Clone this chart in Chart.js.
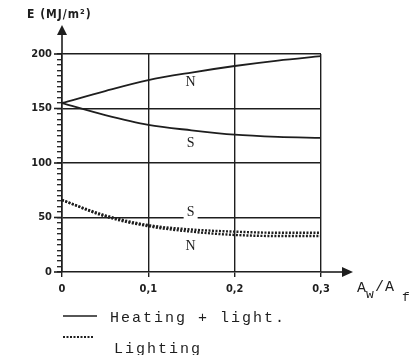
<!DOCTYPE html>
<html><head><meta charset="utf-8">
<script src="https://cdn.jsdelivr.net/npm/chart.js@4/dist/chart.umd.min.js"></script>
<style>html,body{margin:0;padding:0;background:#fff}#wrap{width:416px;height:355px;position:relative}</style>
</head><body><div id="wrap"><canvas id="c" width="416" height="355"></canvas></div>
<script>
const xValues = [0, 0.05, 0.1, 0.15, 0.2, 0.25, 0.3];
const heatingN = [155, 166, 176, 183, 189, 194, 198];
const heatingS = [155, 144, 135, 130, 126, 124, 123];
const lightingS = [66, 52, 43, 39, 37, 36, 36];
const lightingN = [66, 51, 42, 37, 34, 33, 33];
const xTicks = [0, 0.1, 0.2, 0.3];
const xTickLabels = ['0', '0,1', '0,2', '0,3'];
const yMajor = [0, 50, 100, 150, 200];
const curveLabels = [
  {x: 0.149, y: 174, t: 'N', bg: false},
  {x: 0.149, y: 118, t: 'S', bg: false},
  {x: 0.149, y: 55, t: 'S', bg: true},
  {x: 0.149, y: 24, t: 'N', bg: false}
];
const yTitle = 'E (MJ/m²)';
const legendItems = ['Heating + light.', 'Lighting'];

const pts = arr => arr.map((v, i) => ({x: xValues[i], y: v}));
const INK = '#1e1e1e';
const tickFont = {family: "'Liberation Sans Narrow','DejaVu Sans Condensed','Liberation Sans',sans-serif", size: 11, weight: 'bold'};

const extras = {
  id: 'extras',
  afterDraw(chart) {
    const ctx = chart.ctx, xs = chart.scales.x, ys = chart.scales.y;
    const x0 = xs.getPixelForValue(0), y0 = ys.getPixelForValue(0);
    const top = ys.getPixelForValue(200), right = xs.getPixelForValue(0.3);
    ctx.save();
    ctx.strokeStyle = INK; ctx.fillStyle = INK; ctx.lineWidth = 1.6;
    // longer major y ticks
    yMajor.forEach(v => { const py = ys.getPixelForValue(v); ctx.beginPath(); ctx.moveTo(x0 - 8, py); ctx.lineTo(x0, py); ctx.stroke(); });
    // y axis extension + arrow
    ctx.beginPath(); ctx.moveTo(x0, top); ctx.lineTo(x0, 32); ctx.stroke();
    ctx.beginPath(); ctx.moveTo(x0, 25); ctx.lineTo(x0 - 5, 35); ctx.lineTo(x0 + 5, 35); ctx.closePath(); ctx.fill();
    // x axis extension + arrow
    ctx.beginPath(); ctx.moveTo(right, y0); ctx.lineTo(345, y0); ctx.stroke();
    ctx.beginPath(); ctx.moveTo(353, y0); ctx.lineTo(342, y0 - 5); ctx.lineTo(342, y0 + 5); ctx.closePath(); ctx.fill();
    // y title
    ctx.font = "bold 12px 'Liberation Sans Narrow','DejaVu Sans Condensed',sans-serif";
    ctx.textAlign = 'left'; ctx.textBaseline = 'middle';
    ctx.letterSpacing = '1px';
    ctx.fillText(yTitle, 27, 15);
    // x title A_w / A_f
    ctx.letterSpacing = '1px';
    ctx.font = "15px 'Liberation Mono','DejaVu Sans Mono',monospace";
    ctx.textBaseline = 'alphabetic';
    ctx.fillText('A', 357, 292);
    ctx.font = "13px 'Liberation Mono',monospace";
    ctx.fillText('w', 366, 298);
    ctx.font = "15px 'Liberation Mono',monospace";
    ctx.fillText('/A', 375, 291);
    ctx.font = "13px 'Liberation Mono',monospace";
    ctx.fillText('f', 402, 301);
    ctx.letterSpacing = '0px';
    // curve labels
    ctx.font = "14px 'Liberation Serif','DejaVu Serif',serif";
    ctx.textAlign = 'center'; ctx.textBaseline = 'middle';
    curveLabels.forEach(l => {
      const px = xs.getPixelForValue(l.x), py = ys.getPixelForValue(l.y);
      if (l.bg) { ctx.fillStyle = '#fff'; ctx.fillRect(px - 7, py - 7, 14, 14); ctx.fillStyle = INK; }
      ctx.fillText(l.t, px, py);
    });
    // legend
    ctx.lineWidth = 1.6;
    ctx.beginPath(); ctx.moveTo(63, 316); ctx.lineTo(97, 316); ctx.stroke();
    ctx.lineWidth = 2.2; ctx.setLineDash([2, 1.5]);
    ctx.beginPath(); ctx.moveTo(63, 337); ctx.lineTo(93, 337); ctx.stroke();
    ctx.setLineDash([]);
    ctx.font = "15px 'Liberation Mono','DejaVu Sans Mono',monospace";
    ctx.letterSpacing = '2px';
    ctx.textAlign = 'left'; ctx.textBaseline = 'middle';
    ctx.fillText(legendItems[0], 110, 318);
    ctx.fillText(legendItems[1], 114, 349);
    ctx.restore();
  }
};

new Chart(document.getElementById('c'), {
  type: 'line',
  data: {
    datasets: [
      {label: 'Heating + light. N', data: pts(heatingN), borderColor: INK, borderWidth: 1.8, pointRadius: 0, cubicInterpolationMode: 'monotone'},
      {label: 'Heating + light. S', data: pts(heatingS), borderColor: INK, borderWidth: 1.8, pointRadius: 0, cubicInterpolationMode: 'monotone'},
      {label: 'Lighting S', data: pts(lightingS), borderColor: INK, borderWidth: 2.4, borderDash: [2, 1.5], pointRadius: 0, cubicInterpolationMode: 'monotone'},
      {label: 'Lighting N', data: pts(lightingN), borderColor: INK, borderWidth: 2.4, borderDash: [2, 1.5], pointRadius: 0, cubicInterpolationMode: 'monotone'}
    ]
  },
  options: {
    responsive: false, animation: false,
    layout: {padding: {left: 0, right: 95, top: 54, bottom: 0}},
    plugins: {legend: {display: false}, tooltip: {enabled: false}},
    scales: {
      x: {
        type: 'linear', min: 0, max: 0.3,
        afterBuildTicks: s => { s.ticks = xTicks.map(v => ({value: v})); },
        afterFit: s => { s.height = 83; },
        ticks: {color: INK, font: tickFont, padding: 6, maxRotation: 0,
          callback: (v) => { const i = xTicks.findIndex(t => Math.abs(t - v) < 1e-9); return i >= 0 ? xTickLabels[i] : ''; }},
        grid: {color: INK, lineWidth: 1.4, tickLength: 5, tickColor: INK, drawOnChartArea: true},
        border: {color: INK, width: 1.6}
      },
      y: {
        type: 'linear', min: 0, max: 200,
        afterBuildTicks: s => { const t = []; for (let v = 0; v <= 200; v += 5) t.push({value: v}); s.ticks = t; },
        afterFit: s => { s.width = 62; },
        ticks: {color: INK, font: tickFont, padding: 5, autoSkip: false,
          callback: v => yMajor.includes(v) ? String(v) : ''},
        grid: {color: c => (c.tick && yMajor.includes(c.tick.value) && c.tick.value > 0) ? INK : 'rgba(0,0,0,0)',
          lineWidth: 1.4, tickLength: 5, tickColor: INK, tickWidth: 1.3},
        border: {color: INK, width: 1.6}
      }
    }
  },
  plugins: [extras]
});
</script></body></html>
